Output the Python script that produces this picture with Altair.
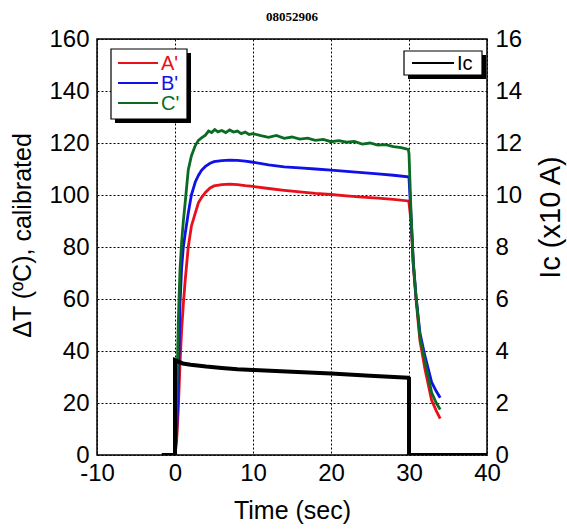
import altair as alt
import pandas as pd

title_text = "08052906"

# time axis for A' and B' (sec)
t_ab = [0, 0.2, 0.43, 0.64, 0.85, 1.07, 1.3, 1.7, 2.1, 2.6,
        3.0, 3.4, 3.9, 4.5, 5.0, 6, 7, 8, 9, 10,
        12, 14, 16, 18, 20, 22, 24, 26, 28, 29.9,
        30.0, 30.26, 30.55, 30.9, 31.4, 32.05, 32.9, 33.5, 34.0]
a_vals = [0, 5, 18, 35, 48, 58, 67, 80, 88, 93,
          97, 99, 101, 102.7, 103.5, 104, 104.2, 104, 103.6, 103.3,
          102.5, 101.8, 101.2, 100.6, 100.2, 99.7, 99.2, 98.8, 98.3, 97.7,
          97, 90, 73, 60, 44, 33, 21, 17, 14]
b_vals = [0, 8, 26, 58, 72, 80, 85, 93, 100, 105,
          107.5, 109.5, 111, 112.2, 112.8, 113.2, 113.4, 113.3, 113, 112.6,
          111.6, 110.8, 110.4, 110, 109.6, 109.1, 108.6, 108.1, 107.6, 107,
          106.5, 92, 74, 61, 47, 38, 28, 24.5, 22]

# time axis for C'
t_c = [0, 0.2, 0.43, 0.64, 0.85, 1.07, 1.3, 1.7, 2.1, 2.6,
       3.0, 3.4, 3.9, 4.3, 4.7, 5.1, 5.5, 6.0, 6.5, 7.0,
       7.5, 8.0, 8.5, 9.0, 9.5, 10, 11, 12, 13, 14,
       15, 16, 17, 18, 19, 20, 21, 22, 23, 24,
       25, 26, 27, 28, 29, 29.9, 30.0, 30.26, 30.55, 30.9,
       31.4, 32.05, 32.9, 33.5, 34.0]
c_vals = [0, 20, 52, 71, 82, 90, 97, 109.6, 115, 119,
          121, 122, 123, 124.6, 124, 125.2, 124.3, 124.8, 124, 125,
          124.2, 124.6, 123.6, 124.2, 123.3, 123.6, 122.8, 122.2, 122.9, 121.8,
          122.3, 121.5, 121.9, 121, 121.4, 120.5, 120.9, 120.3, 120.6, 119.6,
          120, 119.2, 119.4, 118.6, 118.2, 117.5, 116, 93, 74, 61,
          45.5, 36, 24, 20, 17.5]

# current Ic (x10 A)
t_ic = [-1.7, 0, 0, 0.5, 1, 2, 4, 6, 8, 10, 15, 20, 25, 29.9, 30, 30, 34, 40]
ic_vals = [0, 0, 3.65, 3.58, 3.52, 3.47, 3.4, 3.35, 3.3, 3.27, 3.2, 3.13, 3.05, 2.97, 2.95, 0, 0, 0]

series_names = ["A'", "B'", "C'"]
series_colors = ["#e8101a", "#1010e8", "#0b6b22"]
x_ticks = [-10, 0, 10, 20, 30, 40]
left_ticks = [0, 20, 40, 60, 80, 100, 120, 140, 160]
right_ticks = [0, 2, 4, 6, 8, 10, 12, 14, 16]

rows = []
for name, ts, vs in [("A'", t_ab, a_vals), ("B'", t_ab, b_vals), ("C'", t_c, c_vals)]:
    for i, (t, v) in enumerate(zip(ts, vs)):
        rows.append({"t": t, "v": v, "s": name, "o": i})
df = pd.DataFrame(rows)
ic_df = pd.DataFrame({"t": t_ic, "ic": ic_vals, "o": list(range(len(t_ic)))})
dummy = pd.DataFrame({"a": [0]})

FONT = "Liberation Sans"
LABEL_EXPR = "'' + datum.value"

x_scale = alt.Scale(domain=[-10, 40], nice=False, zero=False)
x_axis = alt.Axis(values=x_ticks, title="Time (sec)", labelFlush=False, labelOverlap=False,
                  labelExpr=LABEL_EXPR, labelPadding=6, titlePadding=13)

temp = alt.Chart(df).mark_line(strokeWidth=2.8, clip=True).encode(
    x=alt.X("t:Q", scale=x_scale, axis=x_axis),
    y=alt.Y("v:Q", scale=alt.Scale(domain=[0, 160], nice=False),
            axis=alt.Axis(values=left_ticks, title="ΔT (ºC), calibrated", orient="left",
                          labelFlush=False, labelOverlap=False, titlePadding=13,
                          titleY=196, titleAnchor="middle")),
    color=alt.Color("s:N", scale=alt.Scale(domain=series_names, range=series_colors), legend=None),
    order="o:Q",
)

ic_line = alt.Chart(ic_df).mark_line(strokeWidth=4, color="black", clip=True).encode(
    x=alt.X("t:Q", scale=x_scale, axis=x_axis),
    y=alt.Y("ic:Q", scale=alt.Scale(domain=[0, 16], nice=False),
            axis=alt.Axis(values=right_ticks, title="Ic (x10 A)", orient="right", grid=False,
                          labelFlush=False, labelOverlap=False, titleAngle=270,
                          titleX=63, titleY=178, titleAlign="center", titleBaseline="middle",
                          titleFontSize=29)),
    order="o:Q",
)

base = alt.Chart(dummy)

# chart heading above the plot frame
heading = base.mark_text(font="Liberation Serif", fontSize=13, fontWeight="bold",
                         color="black", align="center", baseline="middle").encode(
    x=alt.value(195), y=alt.value(-22), text=alt.value(title_text))

# left legend box (A', B', C')
lshadow = base.mark_rect(fill="black").encode(
    x=alt.value(18), x2=alt.value(94), y=alt.value(14), y2=alt.value(84))
lbox = base.mark_rect(fill="white", stroke="black", strokeWidth=1.2).encode(
    x=alt.value(14), x2=alt.value(90), y=alt.value(10), y2=alt.value(80))
leg_layers = [lshadow, lbox]
for k, (name, col) in enumerate(zip(series_names, series_colors)):
    yy = 24 + 20 * k
    leg_layers.append(base.mark_rule(color=col, strokeWidth=2).encode(
        x=alt.value(21), x2=alt.value(61), y=alt.value(yy)))
    leg_layers.append(base.mark_text(color=col, font=FONT, fontSize=20, align="left",
                                     baseline="middle").encode(
        x=alt.value(64), y=alt.value(yy + 1), text=alt.value(name)))

# right legend box (Ic)
rshadow = base.mark_rect(fill="black").encode(
    x=alt.value(311), x2=alt.value(389), y=alt.value(16), y2=alt.value(40))
rbox = base.mark_rect(fill="white", stroke="black", strokeWidth=1.2).encode(
    x=alt.value(307), x2=alt.value(385), y=alt.value(12), y2=alt.value(36))
rline = base.mark_rule(color="black", strokeWidth=2).encode(
    x=alt.value(315), x2=alt.value(357), y=alt.value(24))
rtext = base.mark_text(color="black", font=FONT, fontSize=20, align="left",
                       baseline="middle").encode(
    x=alt.value(360), y=alt.value(25), text=alt.value("Ic"))

chart = alt.layer(temp, ic_line, heading, *leg_layers, rshadow, rbox, rline, rtext).resolve_scale(
    y="independent"
).properties(
    width=390, height=416,
    autosize=alt.AutoSizeParams(type="none"),
    padding={"left": 97, "top": 39, "right": 80, "bottom": 74},
).configure_view(
    stroke="black", strokeWidth=1.5
).configure_axis(
    labelFont=FONT, titleFont=FONT, labelFontSize=24, titleFontSize=25,
    labelColor="black", titleColor="black", titleFontWeight="normal",
    grid=True, gridColor="black", gridDash=[2, 2], gridWidth=1, gridOpacity=1,
    domain=False, ticks=False, labelPadding=8,
)

chart.save("out.html", embed_options={"renderer": "svg", "actions": False})
